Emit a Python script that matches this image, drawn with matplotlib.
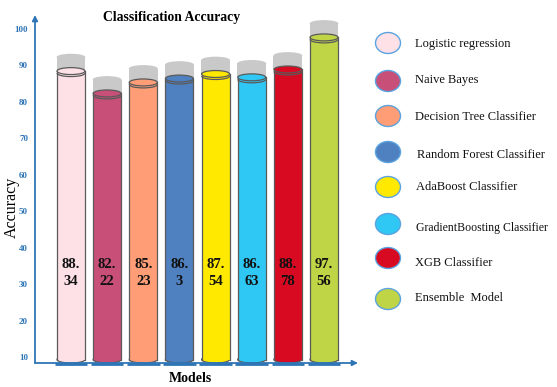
import matplotlib
matplotlib.use("Agg")
import matplotlib.pyplot as plt
from matplotlib.patches import Ellipse, Rectangle, Arc

# ---- data ----
models = ["Logistic regression", "Naive Bayes", "Decision Tree Classifier",
          "Random Forest Classifier", "AdaBoost Classifier",
          "GradientBoosting Classifier", "XGB Classifier", "Ensemble  Model"]
accuracy = [88.34, 82.22, 85.23, 86.3, 87.54, 86.63, 88.78, 97.56]
colors = ["#FDE1E7", "#C74F78", "#FE9D76", "#4F80C0",
          "#FFE900", "#2FC7F3", "#D80A22", "#BFD545"]
yticks = [10, 20, 30, 40, 50, 60, 70, 80, 90, 100]

SERIF = "Liberation Serif"
AXIS_BLUE = "#2E75B6"
EDGE = "#5A5A5A"
SHADOW = "#C9C9C9"

W, H = 557, 387
fig = plt.figure(figsize=(W / 100, H / 100), dpi=100)
fig.patch.set_facecolor("white")
ax = fig.add_axes([35 / W, (H - 363) / H, 323 / W, 348 / H])
ymin = 8.4
ax.set_xlim(-0.996, 7.94)
ax.set_ylim(ymin, 103.7)

for s in ax.spines.values():
    s.set_visible(False)
ax.set_xticks([])
ax.set_yticks(yticks)
ax.set_yticklabels([str(t) for t in yticks], color=AXIS_BLUE,
                   fontfamily=SERIF, fontweight="bold", fontsize=6.5)
ax.tick_params(axis="y", length=0, pad=5)

# axis arrows
arrow = dict(arrowstyle="-|>", color=AXIS_BLUE, lw=1.3, mutation_scale=8,
             shrinkA=0, shrinkB=0)
ax.annotate("", xy=(0, 1), xytext=(0, 0), xycoords="axes fraction",
            textcoords="axes fraction", arrowprops=arrow)
ax.annotate("", xy=(1, 0), xytext=(0, 0), xycoords="axes fraction",
            textcoords="axes fraction", arrowprops=arrow)

bw = 0.775      # cylinder width
sw = 0.80       # shadow width
eh = 1.9        # ellipse height (data units)
cap = 3.8       # shadow height above each cylinder

for i, (v, c) in enumerate(zip(accuracy, colors)):
    # grey sleeve above the top of each cylinder
    ax.add_patch(Rectangle((i - sw / 2, v), sw, cap, facecolor=SHADOW,
                           edgecolor="none", zorder=1))
    ax.add_patch(Ellipse((i, v + cap), sw, eh, facecolor=SHADOW,
                         edgecolor="none", zorder=1))
    # cylinder body
    yb = ymin + eh / 2
    ax.add_patch(Ellipse((i, yb), bw, eh, facecolor=c, edgecolor=EDGE,
                         lw=0.9, zorder=2))
    ax.add_patch(Rectangle((i - bw / 2, yb), bw, v - yb, facecolor=c,
                           edgecolor="none", zorder=3))
    ax.plot([i - bw / 2, i - bw / 2], [yb, v], color=EDGE, lw=0.9, zorder=4)
    ax.plot([i + bw / 2, i + bw / 2], [yb, v], color=EDGE, lw=0.9, zorder=4)
    ax.add_patch(Ellipse((i, v), bw, eh, facecolor=c, edgecolor=EDGE,
                         lw=0.9, zorder=5))
    ax.add_patch(Arc((i, v - 0.55), bw, eh, theta1=180, theta2=360,
                     color=EDGE, lw=0.9, zorder=5))
    # base strip under the cylinder
    ax.plot([i - 0.45, i + 0.45], [ymin - 0.25, ymin - 0.25], color=AXIS_BLUE,
            lw=2, solid_capstyle="butt", clip_on=False, zorder=6)
    # value label
    whole, frac = f"{v}".split(".")
    ax.text(i, 33, f"{whole}.\n{frac}", ha="center", va="center",
            fontfamily=SERIF, fontweight="bold", fontsize=10.5,
            linespacing=1.45, color="#111111", zorder=7)

# titles
fig.text(172 / W, 1 - 18 / H, "Classification Accuracy", ha="center",
         va="center", fontfamily=SERIF, fontweight="bold", fontsize=9.8)
fig.text(190 / W, 1 - 379 / H, "Models", ha="center", va="center",
         fontfamily=SERIF, fontweight="bold", fontsize=10)
fig.text(12 / W, 1 - 207 / H, "Accuracy", ha="center", va="center",
         rotation=90, fontfamily=SERIF, fontsize=11.5)

# legend
leg_y = [43, 81, 116, 152, 187, 224, 258, 299]
txt_y = [44, 80, 117, 155, 187, 228, 263, 298]
txt_x = [415, 415, 415, 417, 416, 416, 415, 415]
txt_size = [9, 9, 9, 9, 9, 8.5, 9, 9]
for name, c, ly, ty, tx, fs in zip(models, colors, leg_y, txt_y, txt_x, txt_size):
    fig.add_artist(Ellipse((388 / W, 1 - ly / H), 25 / W, 21 / H,
                           transform=fig.transFigure, facecolor=c,
                           edgecolor="#5BA3E0", lw=1.0))
    fig.text(tx / W, 1 - ty / H, name, ha="left", va="center",
             fontfamily=SERIF, fontsize=fs, color="#111111")

fig.savefig("out.png", dpi=100)
